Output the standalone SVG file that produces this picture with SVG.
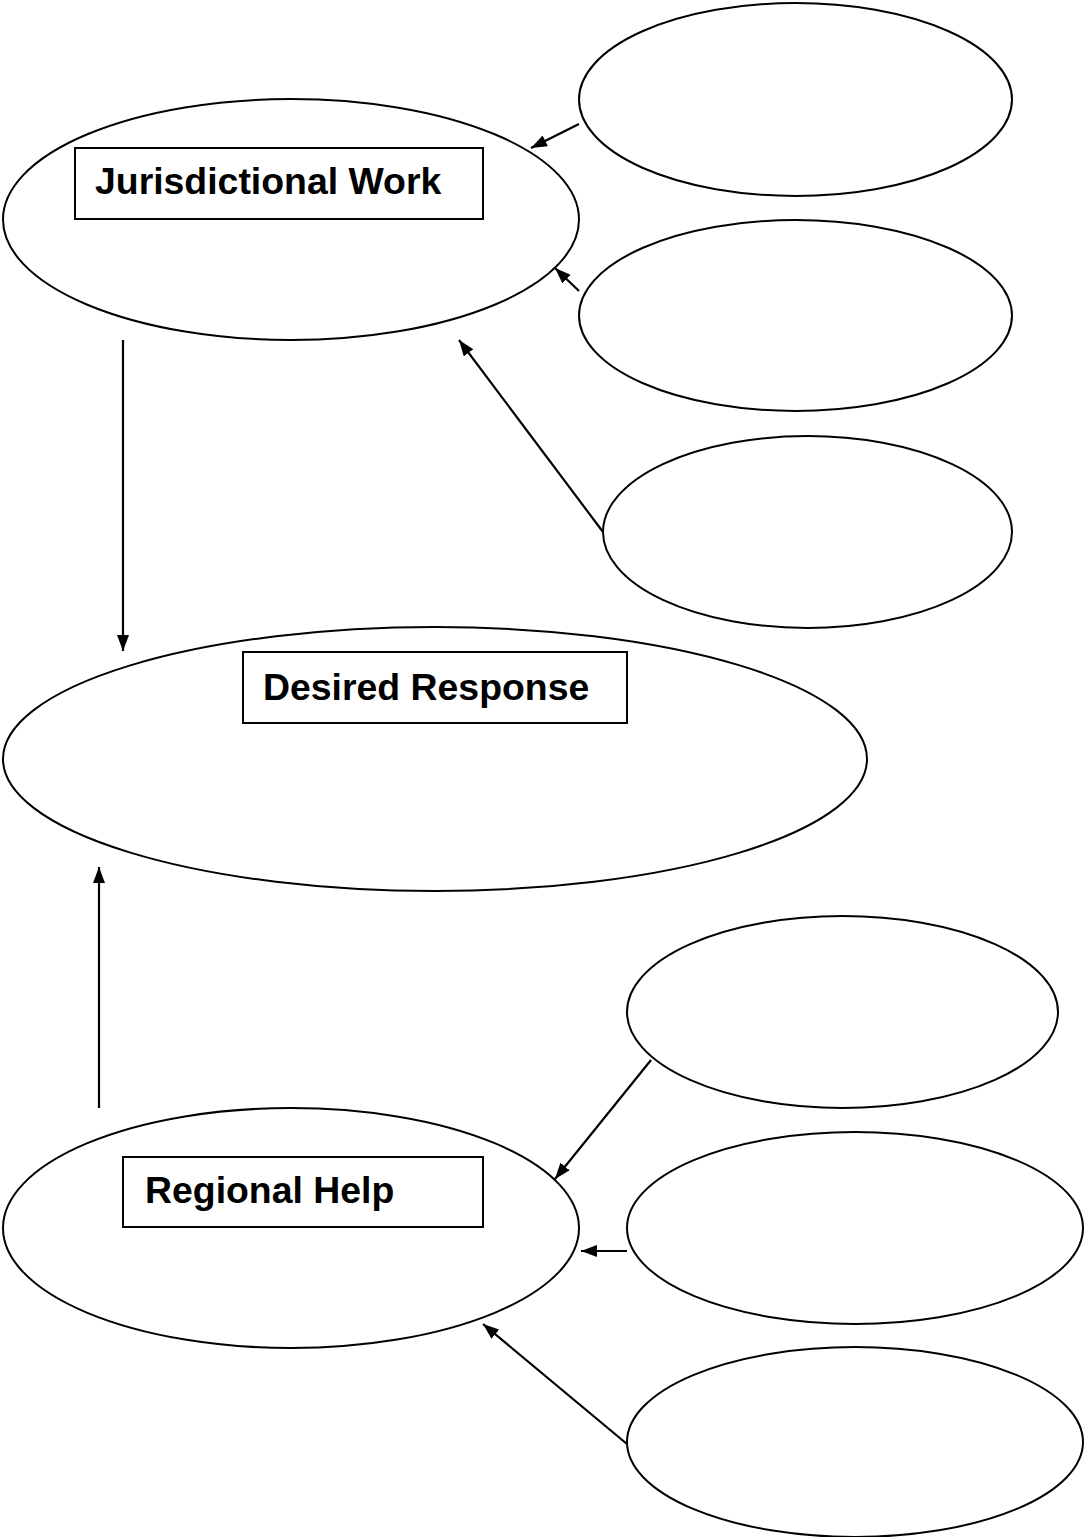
<svg xmlns="http://www.w3.org/2000/svg" width="1086" height="1537" viewBox="0 0 1086 1537">
<style>
.n{fill:none;stroke:#000;stroke-width:2}
.b{fill:#fff;stroke:#000;stroke-width:2}
.t{font-family:"Liberation Sans",Arial,sans-serif;font-weight:bold;font-size:37.4px;fill:#000}
.c line{stroke:#000;stroke-width:2.2;marker-end:url(#ah)}
</style>
<defs>
<marker id="ah" viewBox="0 0 16 12" refX="16" refY="6" markerWidth="16" markerHeight="12" markerUnits="userSpaceOnUse" orient="auto">
<path d="M0,0 L16,6 L0,12 z" fill="#000"/>
</marker>
</defs>
<rect width="1086" height="1537" fill="#fff"/>
<g id="jurisdictional">
<ellipse class="n" cx="291" cy="219.5" rx="288" ry="120.5"/>
<rect class="b" x="75" y="148" width="408" height="71"/>
<text class="t" x="95" y="194">Jurisdictional Work</text>
</g>
<g id="input1"><ellipse class="n" cx="795.5" cy="99.5" rx="216.5" ry="96.5"/></g>
<g id="input2"><ellipse class="n" cx="795.5" cy="315.5" rx="216.5" ry="95.5"/></g>
<g id="input3"><ellipse class="n" cx="807.5" cy="532" rx="204.5" ry="96"/></g>
<g id="desired">
<ellipse class="n" cx="435" cy="759" rx="432" ry="132"/>
<rect class="b" x="243" y="652" width="384" height="71"/>
<text class="t" x="263" y="700">Desired Response</text>
</g>
<g id="input4"><ellipse class="n" cx="842.5" cy="1012" rx="215.5" ry="96"/></g>
<g id="input5"><ellipse class="n" cx="855" cy="1228" rx="228" ry="96"/></g>
<g id="input6"><ellipse class="n" cx="855" cy="1442" rx="228" ry="95"/></g>
<g id="regional">
<ellipse class="n" cx="291" cy="1228" rx="288" ry="120"/>
<rect class="b" x="123" y="1157" width="360" height="70"/>
<text class="t" x="145" y="1203">Regional Help</text>
</g>
<g id="connectors" class="c">
<line x1="579" y1="124" x2="531" y2="148"/>
<line x1="579" y1="291" x2="555" y2="268"/>
<line x1="603" y1="532" x2="459" y2="340"/>
<line x1="123" y1="340" x2="123" y2="651"/>
<line x1="99" y1="1108" x2="99" y2="867"/>
<line x1="651" y1="1060" x2="555" y2="1179"/>
<line x1="627" y1="1251" x2="581" y2="1251"/>
<line x1="627" y1="1444" x2="483" y2="1324"/>
</g>
</svg>
